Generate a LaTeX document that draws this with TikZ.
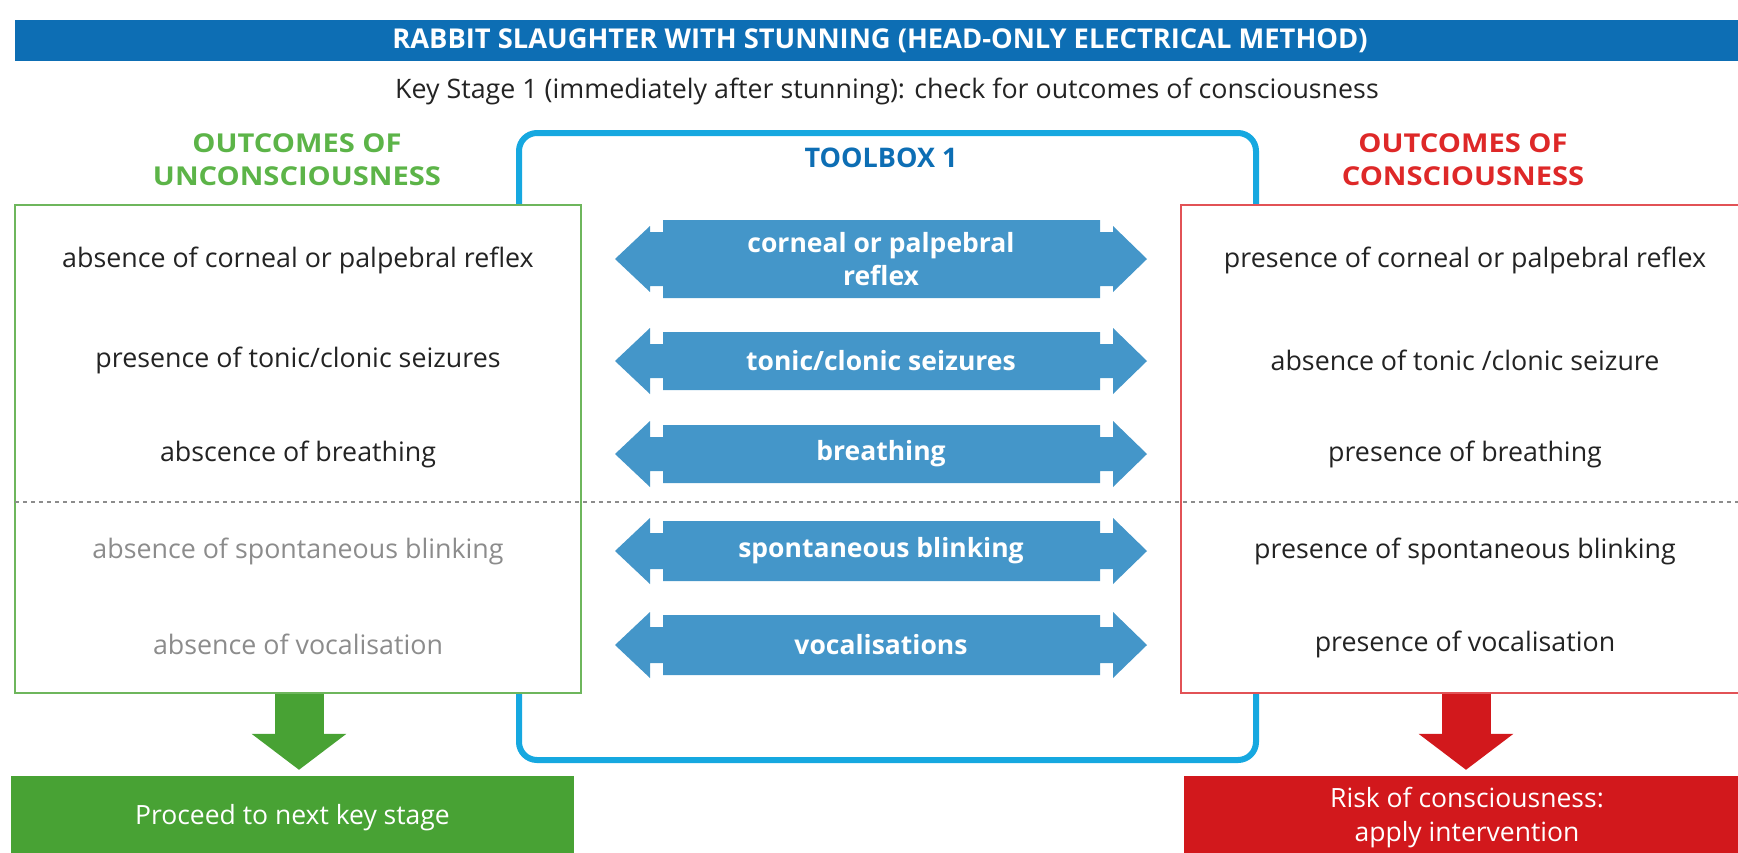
\documentclass[tikz,border=0pt]{standalone}
\usepackage{fontspec}
\setmainfont{Open Sans}
\newfontfamily\widefont{Open Sans}[FakeStretch=1.12]
\usetikzlibrary{positioning, arrows.meta}

\definecolor{barblue}{RGB}{13,110,180}
\definecolor{boxcyan}{RGB}{22,168,224}
\definecolor{arrowblue}{RGB}{68,150,201}
\definecolor{okgreen}{RGB}{110,182,92}
\definecolor{okhead}{RGB}{92,180,72}
\definecolor{okfill}{RGB}{72,162,52}
\definecolor{badred}{RGB}{226,82,86}
\definecolor{badhead}{RGB}{222,40,40}
\definecolor{badfill}{RGB}{210,24,28}
\definecolor{ink}{RGB}{35,35,35}
\definecolor{faded}{RGB}{140,140,140}

% one double-headed toolbox arrow: name, y, half height of shaft, label
\newcommand{\toolarrow}[4]{%
  \fill[arrowblue] (615,#2) -- (650,#2-33) -- (650,#2-#3+12) -- (663,#2-#3+12)
    -- (663,#2-#3) -- (1100,#2-#3) -- (1100,#2-#3+12) -- (1113,#2-#3+12)
    -- (1113,#2-33) -- (1147,#2) -- (1113,#2+33) -- (1113,#2+#3-12)
    -- (1100,#2+#3-12) -- (1100,#2+#3) -- (663,#2+#3) -- (663,#2+#3-12)
    -- (650,#2+#3-12) -- (650,#2+33) -- cycle;
  \node[tooltext] (#1) at (881,#2) {#4};}

\begin{document}
\begin{tikzpicture}[x=1pt,y=-1pt,
    every node/.style={inner sep=0pt, align=center},
    sign/.style={font=\fontsize{26.8}{33}\selectfont, text=ink},
    weak/.style={sign, text=faded},
    head/.style={font=\widefont\bfseries\fontsize{26}{33}\selectfont},
    tooltext/.style={font=\bfseries\fontsize{26.5}{33}\selectfont, text=white},
    outcome/.style={draw=#1, line width=2.5pt, fill=white, minimum height=488pt},
    result/.style={fill=#1, minimum height=84pt, text=white,
                   font=\fontsize{26.5}{34}\selectfont},
    down/.style={draw=#1, line width=49pt,
                 -{Triangle[width=93pt, length=36pt]}, shorten >=6pt}]
  \useasboundingbox (0,0) rectangle (1738,852);

  % title bar and key stage line
  \node[fill=barblue, minimum width=1730pt, minimum height=41pt, text=white,
        font=\bfseries\fontsize{27.3}{30}\selectfont] (title) at (880,40.5)
        {RABBIT SLAUGHTER WITH STUNNING (HEAD-ONLY ELECTRICAL METHOD)};
  \node[sign] (stage) at (887,91)
        {Key Stage 1 (immediately after stunning): check for outcomes of consciousness};

  % toolbox frame, partly hidden by the outcome boxes
  \node[draw=boxcyan, line width=6pt, rounded corners=18pt,
        minimum width=737pt, minimum height=627pt] (toolbox) at (887.5,446.5) {};
  \node[font=\bfseries\fontsize{27}{33}\selectfont, text=barblue] (tbtitle)
        at (881,158) {TOOLBOX 1};

  % outcome boxes
  \node[outcome=okgreen, minimum width=566pt] (unc) at (298,449) {};
  \node[outcome=badred, minimum width=569pt] (con) at (1465.5,449) {};
  \node[head, text=okhead] (unchead) at (297,160) {OUTCOMES OF\\UNCONSCIOUSNESS};
  \node[head, text=badhead] (conhead) at (1463,160) {OUTCOMES OF\\CONSCIOUSNESS};

  % signs of unconsciousness
  \node[sign] (u1) at (298,260) {absence of corneal or palpebral reflex};
  \node[sign] (u2) at (298,360) {presence of tonic/clonic seizures};
  \node[sign] (u3) at (298,454) {abscence of breathing};
  \node[weak] (u4) at (298,551) {absence of spontaneous blinking};
  \node[weak] (u5) at (298,644) {absence of vocalisation};

  % signs of consciousness
  \node[sign] (c1) at (1465,260) {presence of corneal or palpebral reflex};
  \node[sign] (c2) at (1465,360) {absence of tonic /clonic seizure};
  \node[sign] (c3) at (1465,454) {presence of breathing};
  \node[sign] (c4) at (1465,551) {presence of spontaneous blinking};
  \node[sign] (c5) at (1465,644) {presence of vocalisation};

  % toolbox arrows
  \toolarrow{t1}{259}{39}{corneal or palpebral\\reflex}
  \toolarrow{t2}{361}{29}{tonic/clonic seizures}
  \toolarrow{t3}{454}{29}{breathing}
  \toolarrow{t4}{551}{30}{spontaneous blinking}
  \toolarrow{t5}{645}{30}{vocalisations}

  % split between main and additional indicators
  \coordinate (sepl) at (15,502);
  \coordinate (sepr) at (1738,502);
  \draw[faded, line width=1.6pt, dash pattern=on 4pt off 4pt] (sepl) -- (sepr);

  % what to do next
  \node[result=okfill, minimum width=563pt] (proceed) at (292.5,818)
        {Proceed to next key stage};
  \node[result=badfill, minimum width=566pt] (risk) at (1467,818)
        {Risk of consciousness:\\apply intervention};
  \draw[down=okfill] (unc.south -| 299,0) -- (proceed.north -| 299,0);
  \draw[down=badfill] (con.south -| 1466,0) -- (risk.north -| 1466,0);
\end{tikzpicture}
\end{document}
